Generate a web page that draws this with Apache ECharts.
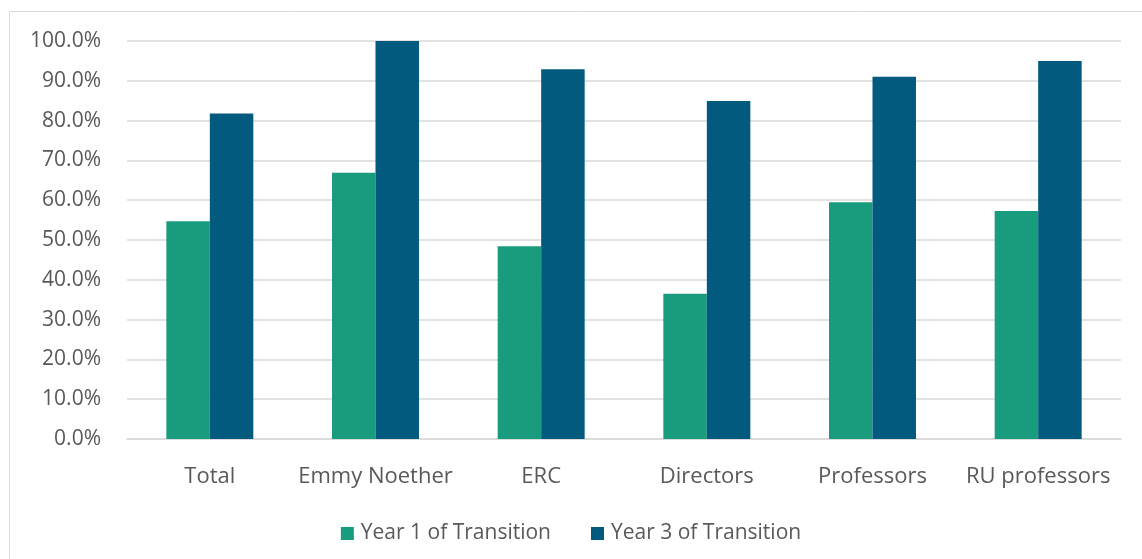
<!DOCTYPE html>
<html>
<head>
<meta charset="utf-8">
<script src="https://cdn.jsdelivr.net/npm/echarts@6/dist/echarts.min.js"></script>
<style>
html,body{margin:0;padding:0;background:#fff;}
#chart{width:1142px;height:559px;}
</style>
</head>
<body>
<div id="chart"></div>
<script>
const categories = ["Total", "Emmy Noether", "ERC", "Directors", "Professors", "RU professors"];
const year1 = [54.7, 66.9, 48.4, 36.5, 59.5, 57.3];
const year3 = [81.8, 100.0, 92.9, 84.9, 91.0, 95.0];
const seriesNames = ["Year 1 of Transition", "Year 3 of Transition"];

const textColor = "#595959";
const font = "Open Sans";
const chart = echarts.init(document.getElementById("chart"));
chart.setOption({
  animation: false,
  backgroundColor: "#ffffff",
  graphic: [{
    type: "rect",
    shape: {x: 9.5, y: 11.5, width: 1200, height: 600},
    style: {fill: "none", stroke: "#d9d9d9", lineWidth: 1}
  }],
  grid: {left: 127, right: 21, top: 41, bottom: 120},
  legend: {
    bottom: 10,
    left: "center",
    itemWidth: 13,
    itemHeight: 13,
    itemGap: 40,
    icon: "rect",
    textStyle: {color: textColor, fontFamily: font, fontSize: 21, padding: [0, 0, 0, 2]},
    data: seriesNames
  },
  xAxis: {
    type: "category",
    data: categories,
    axisLine: {lineStyle: {color: "#d9d9d9", width: 1.5}},
    axisTick: {show: false},
    axisLabel: {color: textColor, fontFamily: font, fontSize: 22, margin: 27, interval: 0}
  },
  yAxis: {
    type: "value",
    min: 0,
    max: 100,
    interval: 10,
    axisLine: {show: false},
    axisTick: {show: false},
    splitLine: {lineStyle: {color: "#d9d9d9", width: 1.5}},
    axisLabel: {
      color: textColor, fontFamily: font, fontSize: 21, margin: 26,
      formatter: v => v.toFixed(1) + "%"
    }
  },
  series: [
    {name: seriesNames[0], type: "bar", data: year1, barGap: "0%", barCategoryGap: "47.5%",
     itemStyle: {color: "#199B7E"}},
    {name: seriesNames[1], type: "bar", data: year3, barGap: "0%", barCategoryGap: "47.5%",
     itemStyle: {color: "#025B7E"}}
  ]
});
</script>
</body>
</html>
